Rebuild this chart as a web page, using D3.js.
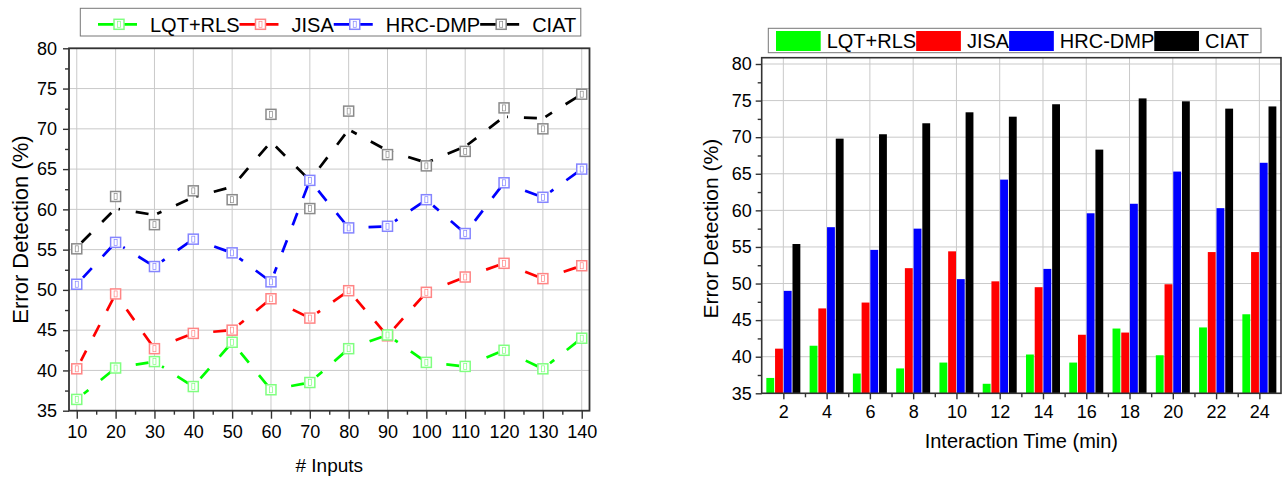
<!DOCTYPE html>
<html>
<head>
<meta charset="utf-8">
<script src="https://cdn.jsdelivr.net/npm/d3@7"></script>
<style>
  body { margin: 0; background: #fff; }
  svg { display: block; font-family: "Liberation Sans", Arial, sans-serif; }
</style>
</head>
<body>
<svg id="chart" width="1282" height="479"></svg>
<script>
const seriesNames = ["LQT+RLS", "JISA", "HRC-DMP", "CIAT"];
const seriesColors = ["#00ff00", "#ff0000", "#0000ff", "#000000"];
const markerColors = ["#80ff80", "#ff8585", "#8585ff", "#8a8a8a"];

// left panel: error detection vs. number of inputs
const inputs = [10, 20, 30, 40, 50, 60, 70, 80, 90, 100, 110, 120, 130, 140];
const lqtInputs = [36.4, 40.3, 41.1, 38.0, 43.5, 37.6, 38.5, 42.7, 44.4, 41.0, 40.5, 42.5, 40.2, 44.0];
const jisaInputs = [40.2, 49.5, 42.7, 44.6, 45.0, 48.9, 46.5, 49.9, 44.3, 49.7, 51.6, 53.3, 51.4, 53.0];
const hrcInputs = [50.7, 55.9, 52.9, 56.3, 54.6, 51.0, 63.6, 57.7, 57.9, 61.2, 57.0, 63.3, 61.5, 65.0];
const ciatInputs = [55.1, 61.6, 58.1, 62.3, 61.2, 71.8, 60.1, 72.2, 66.8, 65.4, 67.2, 72.6, 70.0, 74.3];
// the CIAT dashed line does not run through its own squares
const ciatInputsLine = [55.3, 60.1, 59.3, 61.5, 62.8, 68.4, 63.6, 69.9, 67.3, 65.8, 67.8, 71.5, 71.3, 74.3];

// right panel: error detection vs. interaction time
const minutes = [2, 4, 6, 8, 10, 12, 14, 16, 18, 20, 22, 24];
const lqtTime = [37.1, 41.5, 37.7, 38.4, 39.2, 36.3, 40.3, 39.2, 43.85, 40.2, 44.0, 45.8];
const jisaTime = [41.1, 46.6, 47.4, 52.1, 54.4, 50.3, 49.5, 43.0, 43.3, 49.9, 54.3, 54.3];
const hrcTime = [49.0, 57.7, 54.6, 57.5, 50.6, 64.2, 52.0, 59.6, 60.9, 65.3, 60.3, 66.5];
const ciatTime = [55.4, 69.8, 70.4, 71.9, 73.4, 72.8, 74.5, 68.3, 75.3, 74.9, 73.9, 74.2];

const yMajor = [35, 40, 45, 50, 55, 60, 65, 70, 75, 80];
const yMinor = d3.range(37.5, 80, 5);

const svg = d3.select("#chart");
const gridColor = "#c9c9c9";
const axisColor = "#333";

function styleAxis(g) {
  g.select(".domain").remove();
  g.selectAll(".tick line").attr("stroke", axisColor).attr("stroke-width", 1.4);
  g.selectAll(".tick text").attr("fill", "#000").attr("font-size", 18)
    .attr("font-family", '"Liberation Sans", Arial, sans-serif');
}

// ---------- left panel ----------
const L = { left: 69, right: 589.5, top: 48.3, bottom: 410.7 };
const xL = d3.scaleLinear().domain([8, 142]).range([L.left, L.right]);
const yL = d3.scaleLinear().domain([35, 80]).range([L.bottom, L.top]);

const left = svg.append("g");
const lgGrid = left.append("g");
lgGrid.selectAll("line.v").data(inputs).join("line").attr("class", "v")
  .attr("x1", d => xL(d)).attr("x2", d => xL(d))
  .attr("y1", L.top).attr("y2", L.bottom)
  .attr("stroke", gridColor);
lgGrid.selectAll("line.h").data(yMajor).join("line").attr("class", "h")
  .attr("x1", L.left).attr("x2", L.right)
  .attr("y1", d => yL(d)).attr("y2", d => yL(d))
  .attr("stroke", gridColor);

// dashed lines, broken off near each point, dash phase starting from the later point
function dashedSegments(g, vals, color, startGap) {
  const pts = inputs.map((d, i) => [xL(d), yL(vals[i])]);
  for (let i = 1; i < pts.length; i++) {
    const [x0, y0] = pts[i - 1], [x1, y1] = pts[i];
    const len = Math.hypot(x1 - x0, y1 - y0);
    const ux = (x1 - x0) / len, uy = (y1 - y0) / len;
    g.append("line")
      .attr("x1", x1 - ux * 6).attr("y1", y1 - uy * 6)
      .attr("x2", x0 + ux * startGap).attr("y2", y0 + uy * startGap)
      .attr("stroke", color).attr("stroke-width", 2.7)
      .attr("stroke-dasharray", "13,16");
  }
}

function markers(g, vals, color) {
  const m = g.append("g");
  m.selectAll("rect.o").data(vals).join("rect").attr("class", "o")
    .attr("x", (d, i) => xL(inputs[i]) - 5).attr("y", d => yL(d) - 5)
    .attr("width", 10).attr("height", 10)
    .attr("fill", "#fff").attr("stroke", color).attr("stroke-width", 1.5);
  m.selectAll("rect.i").data(vals).join("rect").attr("class", "i")
    .attr("x", (d, i) => xL(inputs[i]) - 1.5).attr("y", d => yL(d) - 3)
    .attr("width", 3).attr("height", 6)
    .attr("fill", "none").attr("stroke", color).attr("stroke-width", 0.7);
}

const lineSets = [lqtInputs, jisaInputs, hrcInputs, ciatInputsLine];
const markerSets = [lqtInputs, jisaInputs, hrcInputs, ciatInputs];
const lgLines = left.append("g");
lineSets.forEach((vals, i) => dashedSegments(lgLines, vals, seriesColors[i], i === 3 ? 3 : 9));
const lgMarks = left.append("g");
[3, 2, 1, 0].forEach(i => markers(lgMarks, markerSets[i], markerColors[i]));

left.append("g").attr("transform", `translate(0,${L.bottom})`)
  .call(d3.axisBottom(xL).tickValues(inputs).tickSize(8).tickPadding(7).tickFormat(d3.format("d")))
  .call(styleAxis);
left.append("g").attr("transform", `translate(0,${L.bottom})`)
  .call(d3.axisBottom(xL).tickValues(d3.range(15, 140, 10)).tickSize(4).tickFormat(""))
  .call(styleAxis);
left.append("g").attr("transform", `translate(${L.left},0)`)
  .call(d3.axisLeft(yL).tickValues(yMajor).tickSize(6).tickPadding(6))
  .call(styleAxis);
left.append("g").attr("transform", `translate(${L.left},0)`)
  .call(d3.axisLeft(yL).tickValues(yMinor).tickSize(4).tickFormat(""))
  .call(styleAxis);
left.append("rect")
  .attr("x", L.left).attr("y", L.top)
  .attr("width", L.right - L.left).attr("height", L.bottom - L.top)
  .attr("fill", "none").attr("stroke", axisColor).attr("stroke-width", 1.8);

left.append("text")
  .attr("transform", `translate(20,${(L.top + L.bottom) / 2}) rotate(-90)`)
  .attr("text-anchor", "middle").attr("dominant-baseline", "central")
  .attr("font-size", 22).text("Error Detection (%)");
left.append("text")
  .attr("x", (L.left + L.right) / 2).attr("y", 472)
  .attr("text-anchor", "middle").attr("font-size", 19).text("# Inputs");

// left legend
const legL = left.append("g");
legL.append("rect").attr("x", 80.3).attr("y", 8.3).attr("width", 500.5).attr("height", 27.7)
  .attr("fill", "#fff").attr("stroke", "#777").attr("stroke-width", 1);
let cx = 98;
const legY = 24.3;
seriesNames.forEach((name, i) => {
  legL.append("line").attr("x1", cx).attr("x2", cx + 39).attr("y1", legY).attr("y2", legY)
    .attr("stroke", seriesColors[i]).attr("stroke-width", 2.7);
  legL.append("rect").attr("x", cx + 21 - 5).attr("y", legY - 5).attr("width", 10).attr("height", 10)
    .attr("fill", "#fff").attr("stroke", markerColors[i]).attr("stroke-width", 1.5);
  legL.append("rect").attr("x", cx + 21 - 1.5).attr("y", legY - 3).attr("width", 3).attr("height", 6)
    .attr("fill", "none").attr("stroke", markerColors[i]).attr("stroke-width", 0.7);
  const t = legL.append("text").attr("x", cx + 52).attr("y", legY + 7.2)
    .attr("font-size", 20).text(name);
  cx = cx + 52 + t.node().getComputedTextLength();
});

// ---------- right panel ----------
const R = { left: 761.7, right: 1281, top: 57.7, bottom: 393.3 };
const xR = d3.scaleLinear().domain([1, 25]).range([R.left, R.right]);
const yR = d3.scaleLinear().domain([35, 80]).range([R.bottom, 64]);
const sub = d3.scaleBand().domain(seriesNames).range([-17, 17]).paddingInner(0.1);

const right = svg.append("g");
const rgGrid = right.append("g");
rgGrid.selectAll("line.v").data(minutes).join("line")
  .attr("x1", d => xR(d)).attr("x2", d => xR(d))
  .attr("y1", R.top).attr("y2", R.bottom).attr("stroke", gridColor);
rgGrid.selectAll("line.h").data(yMajor).join("line")
  .attr("x1", R.left).attr("x2", R.right)
  .attr("y1", d => yR(d)).attr("y2", d => yR(d)).attr("stroke", gridColor);

const barSets = [lqtTime, jisaTime, hrcTime, ciatTime];
barSets.forEach((vals, i) => {
  right.append("g").selectAll("rect").data(vals).join("rect")
    .attr("x", (d, j) => xR(minutes[j]) + sub(seriesNames[i]))
    .attr("width", sub.bandwidth())
    .attr("y", d => yR(d))
    .attr("height", d => yR(35) - yR(d))
    .attr("fill", seriesColors[i]);
});

right.append("g").attr("transform", `translate(0,${R.bottom})`)
  .call(d3.axisBottom(xR).tickValues(minutes).tickSize(6).tickPadding(6))
  .call(styleAxis);
right.append("g").attr("transform", `translate(0,${R.bottom})`)
  .call(d3.axisBottom(xR).tickValues(d3.range(3, 25, 2)).tickSize(4).tickFormat(""))
  .call(styleAxis);
right.append("g").attr("transform", `translate(${R.left},0)`)
  .call(d3.axisLeft(yR).tickValues(yMajor).tickSize(6).tickPadding(4))
  .call(styleAxis);
right.append("g").attr("transform", `translate(${R.left},0)`)
  .call(d3.axisLeft(yR).tickValues(yMinor).tickSize(4).tickFormat(""))
  .call(styleAxis);
right.append("rect")
  .attr("x", R.left).attr("y", R.top)
  .attr("width", R.right - R.left).attr("height", R.bottom - R.top)
  .attr("fill", "none").attr("stroke", axisColor).attr("stroke-width", 1.6);

right.append("text")
  .attr("transform", `translate(710,${(64 + R.bottom) / 2}) rotate(-90)`)
  .attr("text-anchor", "middle").attr("dominant-baseline", "central")
  .attr("font-size", 21).text("Error Detection (%)");
right.append("text")
  .attr("x", (R.left + R.right) / 2).attr("y", 448)
  .attr("text-anchor", "middle").attr("font-size", 20).text("Interaction Time (min)");

// right legend
const legR = right.append("g");
legR.append("rect").attr("x", 768.3).attr("y", 28.3).attr("width", 492.7).attr("height", 24.4)
  .attr("fill", "#fff").attr("stroke", "#777").attr("stroke-width", 1);
let rx = 776;
seriesNames.forEach((name, i) => {
  legR.append("rect").attr("x", rx).attr("y", 31).attr("width", 44.7).attr("height", 20)
    .attr("fill", seriesColors[i]);
  const t = legR.append("text").attr("x", rx + 50.7).attr("y", 48)
    .attr("font-size", 20).text(name);
  rx = rx + 50.7 + t.node().getComputedTextLength();
});
</script>
</body>
</html>
